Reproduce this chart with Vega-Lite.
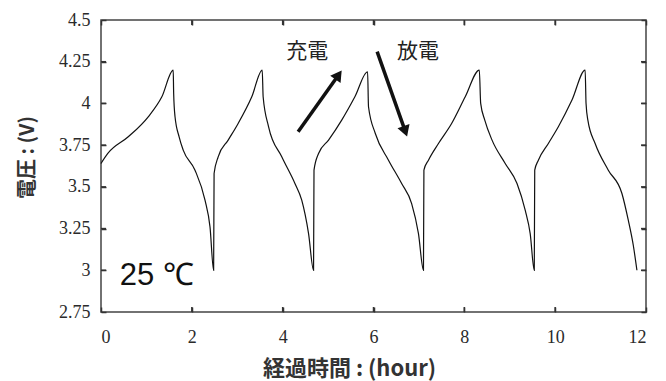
{
  "$schema": "https://vega.github.io/schema/vega-lite/v6.json",
  "width": 545,
  "height": 292,
  "autosize": {"type": "none"},
  "padding": {"left": 101, "top": 20, "right": 20, "bottom": 69},
  "background": "white",
  "config": {
    "view": {"stroke": "#444", "strokeWidth": 1.5},
    "axis": {
      "domain": false,
      "grid": false,
      "ticks": true,
      "tickColor": "#333",
      "tickWidth": 1.5,
      "tickSize": 5,
      "offset": -5,
      "labelFont": "Liberation Serif",
      "labelFontSize": 18,
      "labelColor": "#2a2a2a",
      "titleFont": "Noto Sans CJK JP",
      "titleFontWeight": "bold",
      "titleColor": "#333"
    }
  },
  "datasets": {
    "volt": [
      {"hour": 0, "v": 3.64}, {"hour": 0.15, "v": 3.70}, {"hour": 0.6, "v": 3.80}, {"hour": 1.04, "v": 3.92}, {"hour": 1.34, "v": 4.04}, {"hour": 1.59, "v": 4.20},
      {"hour": 1.6, "v": 4.06}, {"hour": 1.63, "v": 3.92}, {"hour": 1.72, "v": 3.80}, {"hour": 1.81, "v": 3.72}, {"hour": 2.07, "v": 3.60}, {"hour": 2.29, "v": 3.42}, {"hour": 2.40, "v": 3.26}, {"hour": 2.48, "v": 3.00},
      {"hour": 2.49, "v": 3.58}, {"hour": 2.58, "v": 3.68}, {"hour": 2.80, "v": 3.78}, {"hour": 3.02, "v": 3.88}, {"hour": 3.32, "v": 4.04}, {"hour": 3.55, "v": 4.20},
      {"hour": 3.57, "v": 4.04}, {"hour": 3.69, "v": 3.86}, {"hour": 3.98, "v": 3.68}, {"hour": 4.27, "v": 3.52}, {"hour": 4.42, "v": 3.42}, {"hour": 4.57, "v": 3.22}, {"hour": 4.68, "v": 3.00},
      {"hour": 4.69, "v": 3.60}, {"hour": 4.79, "v": 3.70}, {"hour": 5.01, "v": 3.78}, {"hour": 5.30, "v": 3.90}, {"hour": 5.59, "v": 4.04}, {"hour": 5.87, "v": 4.19},
      {"hour": 5.89, "v": 3.98}, {"hour": 6.04, "v": 3.82}, {"hour": 6.33, "v": 3.66}, {"hour": 6.62, "v": 3.52}, {"hour": 6.84, "v": 3.40}, {"hour": 6.99, "v": 3.22}, {"hour": 7.10, "v": 3.00},
      {"hour": 7.11, "v": 3.60}, {"hour": 7.21, "v": 3.66}, {"hour": 7.43, "v": 3.76}, {"hour": 7.72, "v": 3.88}, {"hour": 8.02, "v": 4.04}, {"hour": 8.33, "v": 4.20},
      {"hour": 8.36, "v": 4.00}, {"hour": 8.45, "v": 3.90}, {"hour": 8.61, "v": 3.78}, {"hour": 8.90, "v": 3.64}, {"hour": 9.16, "v": 3.52}, {"hour": 9.34, "v": 3.36}, {"hour": 9.45, "v": 3.22}, {"hour": 9.54, "v": 3.00},
      {"hour": 9.55, "v": 3.60}, {"hour": 9.63, "v": 3.66}, {"hour": 9.85, "v": 3.76}, {"hour": 10.07, "v": 3.86}, {"hour": 10.37, "v": 4.02}, {"hour": 10.66, "v": 4.20},
      {"hour": 10.68, "v": 4.00}, {"hour": 10.72, "v": 3.90}, {"hour": 10.88, "v": 3.76}, {"hour": 11.17, "v": 3.60}, {"hour": 11.47, "v": 3.46}, {"hour": 11.61, "v": 3.30}, {"hour": 11.72, "v": 3.15}, {"hour": 11.80, "v": 3.00}
    ],
    "arrows": [
      {"name": "charge", "x": 4.34, "y": 3.83, "x2": 5.23, "y2": 4.171},
      {"name": "discharge", "x": 6.08, "y": 4.31, "x2": 6.70, "y2": 3.833}
    ],
    "labels": [
      {"label": "充電", "hour": 4.54, "v": 4.31},
      {"label": "放電", "hour": 6.98, "v": 4.31}
    ],
    "temp": [
      {"label": "25 ℃", "hour": 1.23, "v": 2.966}
    ],
    "xticks": [{"t": 2}, {"t": 4}, {"t": 6}, {"t": 8}, {"t": 10}],
    "yticks": [{"t": 3}, {"t": 3.25}, {"t": 3.5}, {"t": 3.75}, {"t": 4}, {"t": 4.25}]
  },
  "layer": [
    {
      "data": {"name": "volt"},
      "mark": {"type": "line", "color": "#111", "strokeWidth": 1.2, "interpolate": "monotone"},
      "encoding": {
        "x": {
          "field": "hour", "type": "quantitative",
          "scale": {"domain": [0, 12], "nice": false, "zero": false},
          "axis": {
            "orient": "bottom",
            "values": [0, 2, 4, 6, 8, 10, 12],
            "labelPadding": 16,
            "labelExpr": "datum.value + ''",
            "title": "経過時間 : (hour)",
            "titleFontSize": 22,
            "titleX": 248,
            "titleY": 61,
            "titleAlign": "center",
            "titleBaseline": "middle"
          }
        },
        "y": {
          "field": "v", "type": "quantitative",
          "scale": {"domain": [2.75, 4.5], "nice": false, "zero": false},
          "axis": {
            "orient": "left",
            "values": [2.75, 3, 3.25, 3.5, 3.75, 4, 4.25, 4.5],
            "labelPadding": 11,
            "labelExpr": "datum.value + ''",
            "title": "電圧 : (V)",
            "titleFontSize": 20,
            "titleX": -79,
            "titleY": 137,
            "titleAlign": "center",
            "titleBaseline": "middle"
          }
        }
      }
    },
    {
      "data": {"name": "arrows"},
      "mark": {"type": "rule", "color": "#111", "strokeWidth": 3.5},
      "encoding": {
        "x": {
          "field": "x", "type": "quantitative",
          "axis": {"orient": "top", "values": [0, 2, 4, 6, 8, 10, 12], "labels": false, "title": null}
        },
        "y": {
          "field": "y", "type": "quantitative",
          "axis": {"orient": "right", "values": [2.75, 3, 3.25, 3.5, 3.75, 4, 4.25, 4.5], "labels": false, "title": null}
        },
        "x2": {"field": "x2"},
        "y2": {"field": "y2"}
      }
    },
    {
      "data": {"name": "xticks"},
      "mark": {"type": "rule", "color": "#333", "strokeWidth": 1.5},
      "encoding": {
        "x": {"field": "t", "type": "quantitative", "axis": null},
        "y": {"datum": 2.75, "type": "quantitative", "axis": null},
        "y2": {"datum": 2.78}
      }
    },
    {
      "data": {"name": "xticks"},
      "mark": {"type": "rule", "color": "#333", "strokeWidth": 1.5},
      "encoding": {
        "x": {"field": "t", "type": "quantitative", "axis": null},
        "y": {"datum": 4.5, "type": "quantitative", "axis": null},
        "y2": {"datum": 4.47}
      }
    },
    {
      "data": {"name": "yticks"},
      "mark": {"type": "rule", "color": "#333", "strokeWidth": 1.5},
      "encoding": {
        "y": {"field": "t", "type": "quantitative", "axis": null},
        "x": {"datum": 0, "type": "quantitative", "axis": null},
        "x2": {"datum": 0.11}
      }
    },
    {
      "data": {"name": "yticks"},
      "mark": {"type": "rule", "color": "#333", "strokeWidth": 1.5},
      "encoding": {
        "y": {"field": "t", "type": "quantitative", "axis": null},
        "x": {"datum": 12, "type": "quantitative", "axis": null},
        "x2": {"datum": 11.89}
      }
    },
    {
      "data": {"name": "arrows"},
      "transform": [{"filter": "datum.name == 'charge'"}],
      "mark": {"type": "point", "shape": "triangle-up", "filled": true, "color": "#111", "opacity": 1, "size": 160, "angle": 35},
      "encoding": {
        "x": {"field": "x2", "type": "quantitative", "axis": null},
        "y": {"field": "y2", "type": "quantitative", "axis": null}
      }
    },
    {
      "data": {"name": "arrows"},
      "transform": [{"filter": "datum.name == 'discharge'"}],
      "mark": {"type": "point", "shape": "triangle-up", "filled": true, "color": "#111", "opacity": 1, "size": 160, "angle": 161},
      "encoding": {
        "x": {"field": "x2", "type": "quantitative", "axis": null},
        "y": {"field": "y2", "type": "quantitative", "axis": null}
      }
    },
    {
      "data": {"name": "labels"},
      "mark": {"type": "text", "font": "Noto Sans CJK JP", "fontSize": 21, "color": "#222", "align": "center", "baseline": "middle"},
      "encoding": {
        "x": {"field": "hour", "type": "quantitative", "axis": null},
        "y": {"field": "v", "type": "quantitative", "axis": null},
        "text": {"field": "label"}
      }
    },
    {
      "data": {"name": "temp"},
      "mark": {"type": "text", "font": "Liberation Sans", "fontSize": 31, "color": "#111", "align": "center", "baseline": "middle"},
      "encoding": {
        "x": {"field": "hour", "type": "quantitative", "axis": null},
        "y": {"field": "v", "type": "quantitative", "axis": null},
        "text": {"field": "label"}
      }
    }
  ],
  "resolve": {"axis": {"x": "independent", "y": "independent"}}
}
